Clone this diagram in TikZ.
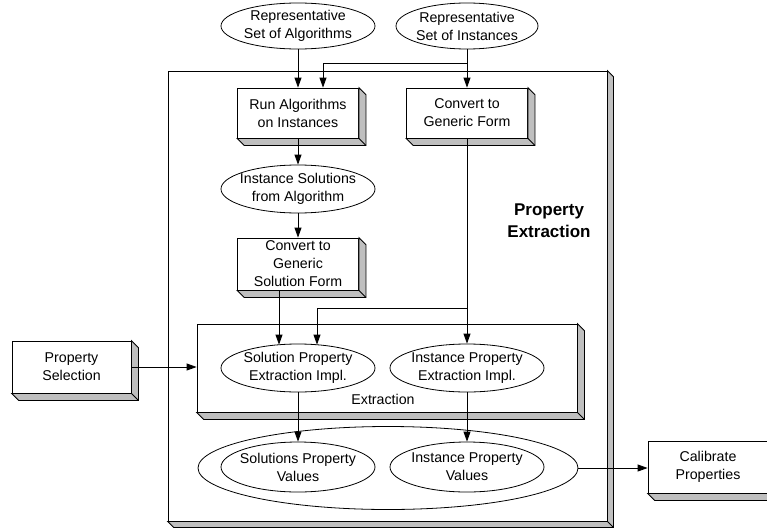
\documentclass[tikz,border=0pt]{standalone}
\usepackage{fontspec}
\setmainfont{Liberation Sans}
\usetikzlibrary{arrows.meta,calc,shapes.geometric}
\begin{document}
\begin{tikzpicture}[x=1pt,y=-1pt,line width=0.8pt,
  lbl/.style={font=\fontsize{14.2}{18}\selectfont,align=center,inner sep=0pt},
  boxnode/.style={draw,fill=white,rectangle,inner sep=0pt},
  ell/.style={draw,fill=white,ellipse,inner sep=0pt},
  arr/.style={-{Triangle[length=10pt,width=7pt]}},
  shadowfill/.style={fill=black!25,draw}]
\useasboundingbox (0,0) rectangle (767,527);

% outer box
\node[boxnode,minimum width=439pt,minimum height=450pt] (outer) at (387.5,296) {};
\node[font=\bfseries\fontsize{17}{22}\selectfont,align=center] (pe) at (549,221) {Property\\Extraction};

% boxes
\node[boxnode,minimum width=121pt,minimum height=50pt,label={[lbl]center:Run Algorithms\\on Instances}] (run) at (298,113) {};
\node[boxnode,minimum width=121pt,minimum height=50pt,label={[lbl]center:Convert to\\Generic Form}] (conv) at (467,113) {};
\node[boxnode,minimum width=121pt,minimum height=52pt,label={[lbl]center:Convert to\\Generic\\Solution Form}] (convsol) at (298,264) {};
\node[boxnode,minimum width=380pt,minimum height=88pt] (extr) at (387,368) {};
\node[lbl] (extrlbl) at (383,399) {Extraction};
\node[boxnode,minimum width=119pt,minimum height=52pt,label={[lbl]center:Property\\Selection}] (psel) at (71.5,367) {};
\node[boxnode,minimum width=120pt,minimum height=52pt,label={[lbl]center:Calibrate\\Properties}] (calib) at (708,467) {};

% shadows
\foreach \n/\d in {outer/6,run/7,conv/7,convsol/7,extr/7,psel/7,calib/7}{
  \draw[shadowfill] (\n.north east) -- ($(\n.north east)+(\d,\d)$) -- ($(\n.south east)+(\d,\d)$)
    -- ($(\n.south west)+(\d,\d)$) -- (\n.south west) -- (\n.south east) -- cycle;
  \draw (\n.south east) -- ($(\n.south east)+(\d,\d)$);
}

% ellipses
\node[ell,minimum width=154pt,minimum height=46pt,label={[lbl]center:Representative\\Set of Algorithms}] (alg) at (298,26) {};
\node[ell,minimum width=142pt,minimum height=46pt,label={[lbl]center:Representative\\Set of Instances}] (inst) at (467,26) {};
\node[ell,minimum width=154pt,minimum height=48pt,label={[lbl]center:Instance Solutions\\from Algorithm}] (isol) at (298,189) {};
\node[ell,minimum width=154pt,minimum height=48pt,label={[lbl]center:Solution Property\\Extraction Impl.}] (solext) at (298,368) {};
\node[ell,minimum width=154pt,minimum height=48pt,label={[lbl]center:Instance Property\\Extraction Impl.}] (instext) at (467,368) {};
\node[ell,minimum width=380pt,minimum height=83pt] (vals) at (388,468) {};
\node[ell,minimum width=154pt,minimum height=50pt,label={[lbl]center:Solutions Property\\Values}] (solval) at (298,467) {};
\node[ell,minimum width=154pt,minimum height=50pt,label={[lbl]center:Instance Property\\Values}] (instval) at (467,467) {};

% connectors
\coordinate (b1) at (467,63);
\coordinate (j1) at (323,63);
\coordinate (x279) at (279,0);
\coordinate (j2) at (467,308);
\coordinate (j3) at (317,308);
\draw[arr] (alg.south) -- (run.north);
\draw[arr] (inst.south) -- (conv.north);
\draw[arr] (b1) -- (j1) -- (j1 |- run.north);
\draw[arr] (run.south) -- (isol.north);
\draw[arr] (isol.south) -- (convsol.north);
\draw[arr] (convsol.south -| x279) -- ($(solext.north -| x279)+(0,1)$);
\draw[arr] (conv.south) -- (instext.north);
\draw[arr] (j2) -- (j3) -- ($(j3 |- solext.north)+(0,1)$);
\draw[arr] (psel.east) -- (psel.east -| extr.west);
\draw[arr] (solext.south) -- (solval.north);
\draw[arr] (instext.south) -- (instval.north);
\draw[arr] (vals.east) -- (vals.east -| calib.west);
\end{tikzpicture}
\end{document}
